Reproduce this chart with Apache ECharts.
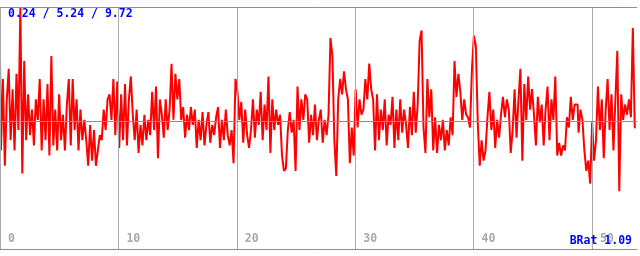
<!DOCTYPE html>
<html>
<head>
<meta charset="utf-8">
<script src="https://cdn.jsdelivr.net/npm/echarts@6/dist/echarts.min.js"></script>
<style>
html,body{margin:0;padding:0;background:#fff;}
#c{width:640px;height:256px;}
</style>
</head>
<body>
<div id="c"></div>
<script>
// ---- data ----
const statMin = 0.24;
const statMean = 5.24;
const statMax = 9.72;
const statsText = ['0.24', '5.24', '9.72'];
const lastLabel = 'BRat 1.09';
const sampleStep = 0.1637;
const xTicks = [0, 10, 20, 30, 40, 50];
const values = [
  7.8,4.1,6.9,3.5,6.1, 7.3,4.5,6.5,4.1,7.1, 4.9,9.72,3.2,7.6, 4.5,6.3,4.7,5.7,4.3,6.1,
  5.3,6.9,4.1,6.1,4.5,6.7,3.9,7.8,4.3,5.7, 4.1,6.3,4.5,5.5,4.1, 5.9,6.9,4.3,6.9,4.9,
  6.1,4.1,5.7,4.5,5.3, 4.5,3.5,5.1,3.7,4.9,3.5,4.1,4.7, 4.5,5.7,4.9,6.1,6.3,5.3,
  6.9,4.7, 6.8,4.2,6.3,4.5,6.7,4.3,6.1, 7.0,
  5.5,4.5,5.7,4.0,5.1,4.3,5.5,4.5,5.3,4.7, 6.4,4.9,6.6,3.8,6.1, 5.5,4.6,6.1,4.9,5.7,
  7.5,5.3,7.1,6.1,6.9, 5.3,5.8,4.6,5.5,4.9,5.8,5.1, 5.7,4.2,5.3,4.5,5.6,4.3,5.1,
  5.6,4.4,5.1,4.7,5.4, 5.8,4.2,5.3,4.5,5.7,4.7, 4.3,4.9,3.6, 6.9,6.4,5.3, 6.0,4.4,5.7,4.7,
  4.2,4.9,
  6.1,4.6,5.7,5.1, 6.4,4.5,5.9,4.9, 7.0,4.0, 6.1,4.9,5.7,5.1,5.5, 3.9,3.3,3.4,4.9,
  5.6,4.8,5.3,3.3, 6.6,4.9,6.1,5.3,6.3, 6.1,4.4,5.5,4.7,5.9,4.5,5.3, 5.7,4.4,5.3,4.7,5.5,
  8.5,7.8, 4.5,3.1, 6.1,6.9,6.3,7.2,6.5,6.1, 3.6,5.0,3.9, 6.5,5.0,6.1,5.5, 5.7,6.9,6.1,7.5,6.5,
  6.1,4.1,6.3,4.5,5.7,4.9,6.1,4.3,5.5,5.1, 6.2,4.2,5.7,4.5, 6.1,4.8,5.7,5.1, 4.2,5.8,4.7,
  6.4,4.8,5.9, 8.4,8.8,5.0, 4.0,6.9,5.4,6.5,4.1, 5.4,4.0,5.1,4.5,5.3,4.1,4.9,4.3,5.4,4.7,
  7.6,6.2,7.1, 6.4,5.3,6.1,5.5, 5.4,5.0, 7.3,8.6,8.2, 5.2,3.5,4.5,3.7,4.1, 5.4,6.4,4.9,
  5.7,4.2,5.3,4.6,5.5, 6.2,5.4,6.1,5.7, 4.0,4.9, 6.5,4.6,6.1, 7.3,3.7, 6.7,5.3,7.0,5.7,6.5,5.5,4.3,
  6.2,5.2,5.9,4.3,5.7, 6.6,4.5,6.1,5.3, 7.0, 3.9,4.4,3.9,4.3,4.1, 5.4,5.0, 6.2,5.3,5.9,
  5.9,4.8,5.7,5.3, 4.1,3.3,3.7,2.8, 5.2,3.7,4.5, 6.6,4.9,6.1,3.8,5.7, 6.9,4.9,6.3,4.1,6.1,
  8.0,2.5, 6.3,5.3,5.9,5.5,6.1,5.4, 8.9,5.0
];

const seriesData = values.map((v, i) => [i * sampleStep, v]);

const chart = echarts.init(document.getElementById('c'), null, {renderer: 'canvas'});
const monoFont = '"DejaVu Sans Mono", "Liberation Mono", monospace';
chart.setOption({
  animation: false,
  backgroundColor: '#ffffff',
  grid: {left: 0, right: 0, top: 7, bottom: 7, containLabel: false},
  xAxis: {
    type: 'value', min: 0, max: 53.8, interval: 10,
    axisLine: {show: false}, axisTick: {show: false},
    splitLine: {show: false},
    axisLabel: {
      inside: true, align: 'left', verticalAlign: 'bottom', margin: 4,
      padding: [0, 0, 0, 8],
      color: '#a8a8a8', fontFamily: monoFont, fontSize: 11.5, fontWeight: 'bold',
      formatter: function (v) { return xTicks.indexOf(v) >= 0 ? String(v) : ''; }
    }
  },
  yAxis: {
    type: 'value', min: statMin, max: statMax,
    show: false, splitLine: {show: false}
  },
  graphic: [
    {type: 'text', left: 8, top: 8, z: 100,
     style: {text: statsText.join(' / '), fill: '#0000ff', font: 'bold 11.5px ' + monoFont}},
    {type: 'text', right: 8, bottom: 9, z: 100,
     style: {text: lastLabel, fill: '#0000ff', font: 'bold 11.5px ' + monoFont}}
  ],
  series: [
    {
      type: 'line', data: [], z: 1,
      markLine: {
        silent: true, symbol: 'none', label: {show: false},
        lineStyle: {color: '#aaaaaa', width: 1, type: 'solid'},
        data: xTicks.map(t => ({xAxis: t}))
      }
    },
    {
      type: 'line', data: seriesData, symbol: 'none', showSymbol: false, step: 'middle',
      lineStyle: {color: '#ff0000', width: 2}, z: 2
    },
    {
      type: 'line', data: [], z: 5,
      markLine: {
        silent: true, symbol: 'none', label: {show: false},
        lineStyle: {color: '#5f96e0', width: 1, type: 'solid'},
        data: [{yAxis: statMin}, {yAxis: statMean}, {yAxis: statMax}]
      }
    }
  ]
});
</script>
</body>
</html>
